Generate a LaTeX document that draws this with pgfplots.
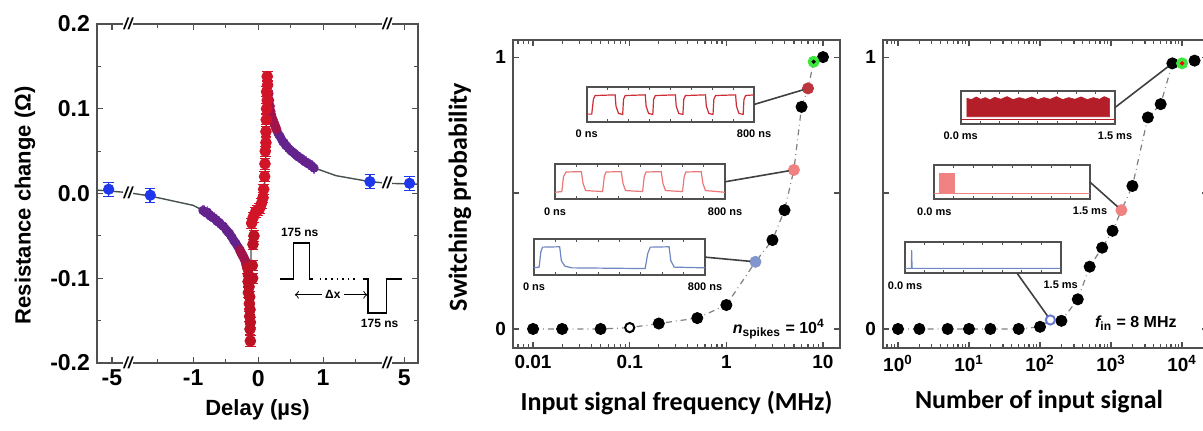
\documentclass[border=0pt]{standalone}
\usepackage{fontspec}
\setmainfont{Liberation Sans}
\newfontfamily\calfont{Carlito}
\usepackage{pgfplots}
\pgfplotsset{compat=1.18}

\definecolor{frame}{RGB}{80,80,80}
\definecolor{ptblue}{RGB}{30,55,235}
\definecolor{ptpurple}{RGB}{100,35,140}
\definecolor{errpurple}{RGB}{160,120,220}
\definecolor{ptwine}{RGB}{160,20,75}
\definecolor{ptred}{RGB}{210,20,40}
\definecolor{fitgray}{RGB}{70,80,80}
\definecolor{trdark}{RGB}{205,45,55}
\definecolor{trlight}{RGB}{235,120,120}
\definecolor{trblue}{RGB}{110,135,195}
\definecolor{dkred}{RGB}{180,30,40}
\definecolor{ptpink}{RGB}{240,130,130}
\definecolor{ltblue}{RGB}{130,150,205}
\definecolor{ptgreen}{RGB}{60,230,60}

\pgfplotsset{
  mainax/.style={scale only axis, anchor=south west, clip=false,
    axis line style={frame, line width=0.9pt},
    tick style={frame, line width=0.6pt},
    major tick length=3pt, minor tick length=1.8pt, tick align=inside},
  inset/.style={scale only axis, anchor=south west, clip=false,
    xmin=0, xmax=1, ymin=0, ymax=1, ytick=\empty,
    xtick={0.125,0.25,0.375,0.5,0.625,0.75,0.875}, xticklabels={},
    axis line style={frame, line width=0.9pt},
    tick style={frame, line width=0.5pt}, major tick length=1.5pt,
    axis background/.style={fill=white}},
  blk/.style={only marks, mark=*, mark size=2.8pt, black},
}
\tikzset{conn/.style={draw=black!75, line width=0.8pt, shorten >=2.6pt},
  insl/.style={font=\fontsize{5.5}{6}\selectfont\bfseries, anchor=north, yshift=-0.5pt},
  brk/.style={fill=white, inner sep=0.3pt, font=\bfseries\itshape\footnotesize}}

\begin{document}
\begin{tikzpicture}
\useasboundingbox (0,0) rectangle (601.5pt,215.5pt);

% ---------------- panel 1: resistance change vs delay
\begin{axis}[mainax, at={(48.5pt,34pt)}, width=160.5pt, height=169.5pt,
  xmin=-2.48, xmax=2.46, ymin=-0.2, ymax=0.2,
  xtick={-2.25,-1,0,1,2.25}, xticklabels={-5,-1,0,1,5},
  minor xtick={-1.55,-0.5,0.5,1.5},
  ytick={-0.2,-0.1,0,0.1,0.2}, yticklabels={-0.2,-0.1,0.0,0.1,0.2},
  minor ytick={-0.15,-0.05,0.05,0.15},
  tick label style={font=\fontsize{11.5}{12}\selectfont\bfseries},
  xlabel={Delay (µs)}, ylabel={Resistance change (Ω)},
  label style={font=\fontsize{11}{12}\selectfont\bfseries},
  xlabel style={at={(axis description cs:0.5,-0.139)}, anchor=center},
  ylabel style={at={(axis description cs:-0.224,0.465)}, anchor=center},
]
% fit line
\addplot[fitgray, line width=0.7pt] coordinates {
  (-2.48,0.004) (-2.3,0.003) (-2.0,0.001) (-1.66,-0.003) (-1.3,-0.009)
  (-1.0,-0.014) (-0.85,-0.020) (-0.64,-0.031) (-0.49,-0.043) (-0.385,-0.055)
  (-0.28,-0.067) (-0.2,-0.079) (-0.16,-0.09) (-0.14,-0.11) (-0.125,-0.14)
  (-0.115,-0.178) (-0.11,-0.06) (-0.1,-0.035) (-0.06,-0.024) (0.0,-0.019)
  (0.05,-0.012) (0.08,-0.004) (0.1,0.01) (0.12,0.05) (0.135,0.14)
  (0.16,0.118) (0.2,0.095) (0.28,0.076) (0.44,0.056) (0.67,0.041)
  (0.87,0.030) (1.2,0.021) (1.72,0.014) (2.0,0.012) (2.46,0.011)
};
% blue points (long delays)
\addplot[only marks, mark=*, mark size=2.6pt, ptblue,
  error bars/.cd, y dir=both, y fixed=0.008,
  error bar style={ptblue, line width=0.8pt}] coordinates {
  (-2.30,0.005) (-1.66,-0.002) (1.72,0.014) (2.33,0.012)
};
% purple points
\addplot[only marks, mark=*, mark size=2.1pt, ptpurple,
  error bars/.cd, x dir=both, x fixed=0.04, y dir=both, y fixed=0.007,
  error mark=none, error bar style={errpurple, line width=0.6pt}] coordinates {
  (-0.85,-0.020) (-0.83,-0.021) (-0.80,-0.023) (-0.78,-0.022) (-0.75,-0.025)
  (-0.73,-0.027) (-0.70,-0.028) (-0.68,-0.029) (-0.65,-0.031) (-0.63,-0.033)
  (-0.60,-0.034) (-0.58,-0.036) (-0.55,-0.038) (-0.53,-0.039) (-0.50,-0.042)
  (-0.48,-0.044) (-0.46,-0.046) (-0.44,-0.047) (-0.42,-0.050) (-0.40,-0.052)
  (-0.38,-0.055) (-0.36,-0.057) (-0.34,-0.059) (-0.32,-0.062) (-0.30,-0.064)
  (0.30,0.072) (0.32,0.069) (0.34,0.067) (0.36,0.064) (0.38,0.061)
  (0.40,0.060) (0.42,0.057) (0.44,0.056) (0.47,0.053) (0.50,0.051)
  (0.53,0.049) (0.56,0.047) (0.59,0.045) (0.62,0.043) (0.65,0.042)
  (0.68,0.040) (0.71,0.038) (0.74,0.037) (0.77,0.035) (0.80,0.034)
  (0.83,0.032) (0.86,0.030)
};
% transition points
\addplot[only marks, mark=*, mark size=2.3pt, ptwine,
  error bars/.cd, x dir=both, x fixed=0.03, y dir=both, y fixed=0.006,
  error mark=none, error bar style={ptwine!60, line width=0.5pt}] coordinates {
  (-0.28,-0.067) (-0.26,-0.070) (-0.24,-0.073) (-0.22,-0.076) (-0.20,-0.079)
  (-0.19,-0.082) (-0.18,-0.085)
  (0.16,0.118) (0.17,0.110) (0.18,0.103) (0.19,0.097) (0.20,0.093)
  (0.22,0.088) (0.24,0.084) (0.26,0.080) (0.28,0.076)
};
% red points (short delays)
\addplot[only marks, mark=*, mark size=2.7pt, ptred!90!black,
  error bars/.cd, y dir=both, y fixed=0.006,
  error bar style={ptred, line width=0.6pt}] coordinates {
  (-0.16,-0.088) (-0.15,-0.096) (-0.155,-0.104) (-0.14,-0.110) (-0.15,-0.117)
  (-0.13,-0.122) (-0.135,-0.130) (-0.125,-0.137) (-0.13,-0.145) (-0.12,-0.152)
  (-0.125,-0.160) (-0.12,-0.174)
  (-0.085,-0.100) (-0.09,-0.085) (-0.08,-0.060) (-0.065,-0.050)
};
\addplot[only marks, mark=*, mark size=2.7pt, ptred,
  error bars/.cd, y dir=both, y fixed=0.006,
  error bar style={ptred, line width=0.6pt}] coordinates {
  (-0.1,-0.035) (-0.075,-0.028) (-0.04,-0.022) (-0.01,-0.020) (0.02,-0.018)
  (0.05,-0.012) (0.075,-0.005) (0.085,0.005) (0.1,0.020) (0.105,0.035)
  (0.11,0.050) (0.12,0.060) (0.12,0.073) (0.125,0.087) (0.13,0.100)
  (0.14,0.110) (0.13,0.120) (0.145,0.128) (0.14,0.138)
};
% axis breaks
\node[brk] at (axis cs:-2.0,0.2) {//};
\node[brk] at (axis cs:-2.0,-0.2) {//};
\node[brk] at (axis cs:1.98,0.2) {//};
\node[brk] at (axis cs:1.98,-0.2) {//};
\node[brk] at (axis cs:-2.0,0.001) {//};
\node[brk] at (axis cs:1.98,0.012) {//};
% pulse schematic
\draw[black, line width=0.6pt] (axis cs:0.33,-0.101) -- (axis cs:0.54,-0.101)
  -- (axis cs:0.54,-0.0585) -- (axis cs:0.795,-0.0585) -- (axis cs:0.795,-0.101)
  -- (axis cs:0.846,-0.101);
\draw[black, dotted, line width=0.8pt] (axis cs:0.95,-0.101) -- (axis cs:1.54,-0.101);
\draw[black, line width=0.6pt] (axis cs:1.615,-0.101) -- (axis cs:1.69,-0.101)
  -- (axis cs:1.69,-0.141) -- (axis cs:1.975,-0.141) -- (axis cs:1.975,-0.101)
  -- (axis cs:2.21,-0.101);
\node[font=\fontsize{6}{7}\selectfont\bfseries] at (axis cs:0.64,-0.046) {175 ns};
\node[font=\fontsize{6}{7}\selectfont\bfseries] at (axis cs:1.87,-0.153) {175 ns};
\draw[black, line width=0.5pt, <-] (axis cs:0.565,-0.1195) -- (axis cs:0.98,-0.1195);
\node[font=\fontsize{6}{7}\selectfont\bfseries] at (axis cs:1.15,-0.1195) {Δx};
\draw[black, line width=0.5pt, ->] (axis cs:1.32,-0.1195) -- (axis cs:1.68,-0.1195);
\end{axis}

% ---------------- panel 2: switching probability vs frequency
\begin{axis}[mainax, at={(256.5pt,41.5pt)}, width=163.5pt, height=154pt,
  xmode=log, xmin=0.0062, xmax=15, ymin=-0.07, ymax=1.063,
  xtick={0.01,0.1,1,10}, xticklabels={0.01,0.1,1,10},
  minor xtick={0.007,0.008,0.009,0.02,0.03,0.04,0.05,0.06,0.07,0.08,0.09,
    0.2,0.3,0.4,0.5,0.6,0.7,0.8,0.9,2,3,4,5,6,7,8,9},
  ytick={0,0.5,1}, yticklabels={0,,1},
  tick label style={font=\fontsize{9.5}{10}\selectfont\bfseries},
  xlabel={Input signal frequency (MHz)}, ylabel={Switching probability},
  label style={font=\calfont\fontsize{13}{14}\selectfont\bfseries},
  xlabel style={at={(axis description cs:0.5,-0.179)}, anchor=center},
  ylabel style={at={(axis description cs:-0.162,0.49)}, anchor=center},
]
\addplot[gray, dash dot, line width=0.6pt] coordinates {
  (0.01,0) (0.02,0) (0.05,0) (0.1,0.005) (0.2,0.02) (0.5,0.04) (1,0.088)
  (2,0.247) (3,0.327) (4,0.437) (5,0.585) (6,0.817) (7,0.885) (8,0.983) (10,1.0)
};
\addplot[blk] coordinates {
  (0.01,0) (0.02,0) (0.05,0) (0.2,0.02) (0.5,0.04) (1,0.088)
  (3,0.327) (4,0.437) (6,0.817) (10,1.0)
};
\addplot[only marks, mark=*, mark size=2.3pt, draw=black, fill=white, line width=1pt]
  coordinates {(0.1,0.005)};
\addplot[only marks, mark=*, mark size=2.8pt, draw=ltblue, fill=ltblue] coordinates {(2,0.247)};
\addplot[only marks, mark=*, mark size=2.8pt, draw=ptpink, fill=ptpink] coordinates {(5,0.585)};
\addplot[only marks, mark=*, mark size=2.8pt, draw=dkred!90, fill=dkred!90] coordinates {(7,0.885)};
\addplot[only marks, mark=*, mark size=2.8pt, draw=ptgreen, fill=ptgreen] coordinates {(8,0.983)};
\addplot[only marks, mark=*, mark size=0.8pt, black] coordinates {(8,0.983)};
\coordinate (q2a) at (axis cs:7,0.885);
\coordinate (q2b) at (axis cs:5,0.585);
\coordinate (q2c) at (axis cs:2,0.247);
\node[anchor=east, font=\fontsize{8}{9}\selectfont\bfseries]
  at (rel axis cs:0.975,0.06) {\itshape n\textsubscript{\upshape spikes}\upshape{} = 10\textsuperscript{4}};
\end{axis}

\begin{axis}[inset, name=in2a, at={(293.35pt,154.65pt)}, width=83.65pt, height=17.2pt]
\addplot[trdark, line width=0.6pt] coordinates {
  (0,0.22) (0.03,0.22) (0.04,0.65) (0.05,0.76) (0.17,0.78) (0.175,0.45) (0.19,0.24)
  (0.215,0.21) (0.22,0.65) (0.23,0.76) (0.35,0.78) (0.355,0.45) (0.37,0.24)
  (0.395,0.21) (0.40,0.65) (0.41,0.76) (0.53,0.78) (0.535,0.45) (0.55,0.24)
  (0.575,0.21) (0.58,0.65) (0.59,0.76) (0.71,0.78) (0.715,0.45) (0.73,0.24)
  (0.755,0.21) (0.76,0.65) (0.77,0.76) (0.89,0.78) (0.895,0.45) (0.91,0.24)
  (0.935,0.21) (0.94,0.65) (0.95,0.76) (1,0.78)
};
\node[insl] at (rel axis cs:0,0) {0 ns};
\node[insl] at (rel axis cs:1,0) {800 ns};
\end{axis}
\begin{axis}[inset, name=in2b, at={(277.5pt,115.85pt)}, width=85pt, height=17.5pt]
\addplot[trlight, line width=0.6pt] coordinates {
  (0,0.2) (0.04,0.22) (0.05,0.65) (0.065,0.78) (0.155,0.79) (0.165,0.45) (0.18,0.25)
  (0.28,0.22) (0.29,0.65) (0.30,0.78) (0.39,0.79) (0.40,0.45) (0.415,0.25)
  (0.515,0.22) (0.525,0.65) (0.535,0.78) (0.625,0.79) (0.635,0.45) (0.65,0.25)
  (0.75,0.22) (0.76,0.65) (0.77,0.78) (0.86,0.79) (0.87,0.45) (0.885,0.25) (1,0.2)
};
\node[insl] at (rel axis cs:0,0) {0 ns};
\node[insl] at (rel axis cs:1,0) {800 ns};
\end{axis}
\begin{axis}[inset, name=in2c, at={(267pt,78pt)}, width=85.5pt, height=17.85pt]
\addplot[trblue, line width=0.6pt] coordinates {
  (0,0.2) (0.03,0.22) (0.04,0.65) (0.05,0.78) (0.15,0.79) (0.16,0.4) (0.18,0.25)
  (0.22,0.2) (0.65,0.18) (0.665,0.6) (0.68,0.78) (0.79,0.79) (0.80,0.4) (0.82,0.22) (1,0.2)
};
\node[insl] at (rel axis cs:0,0) {0 ns};
\node[insl] at (rel axis cs:1,0) {800 ns};
\end{axis}

% ---------------- panel 3: switching probability vs number of inputs
\begin{axis}[mainax, at={(441.5pt,41.5pt)}, width=162.5pt, height=154pt,
  xmode=log, xmin=0.615, xmax=23200, ymin=-0.07, ymax=1.063,
  xtick={1,10,100,1000,10000},
  xticklabels={10\textsuperscript{0},10\textsuperscript{1},10\textsuperscript{2},10\textsuperscript{3},10\textsuperscript{4}},
  minor xtick={0.7,0.8,0.9,2,3,4,5,6,7,8,9,20,30,40,50,60,70,80,90,
    200,300,400,500,600,700,800,900,2000,3000,4000,5000,6000,7000,8000,9000,20000},
  ytick={0,0.5,1}, yticklabels={0,,1},
  tick label style={font=\fontsize{9.5}{10}\selectfont\bfseries},
  xlabel={Number of input signal},
  label style={font=\calfont\fontsize{13}{14}\selectfont\bfseries},
  xlabel style={at={(axis description cs:0.48,-0.175)}, anchor=center},
]
\addplot[gray, dash dot, line width=0.6pt] coordinates {
  (1,0) (2,0) (5,0) (10,0) (20,0) (50,0) (100,0.008) (140,0.033) (200,0.03)
  (340,0.109) (500,0.229) (750,0.299) (1050,0.361) (1400,0.437) (2000,0.526)
  (3300,0.778) (5000,0.827) (7300,0.977) (10000,0.977) (15000,0.987)
};
\addplot[blk] coordinates {
  (1,0) (2,0) (5,0) (10,0) (20,0) (50,0) (100,0.008) (200,0.03)
  (340,0.109) (500,0.229) (750,0.299) (1050,0.361) (2000,0.526)
  (3300,0.778) (5000,0.827) (7300,0.977) (15000,0.987)
};
\addplot[only marks, mark=*, mark size=2.3pt, draw=ltblue!80!blue, fill=white, line width=1pt]
  coordinates {(140,0.033)};
\addplot[only marks, mark=*, mark size=2.8pt, draw=ptpink, fill=ptpink] coordinates {(1400,0.437)};
\addplot[only marks, mark=*, mark size=2.8pt, draw=ptgreen, fill=ptgreen] coordinates {(10000,0.977)};
\addplot[only marks, mark=*, mark size=0.9pt, red] coordinates {(10000,0.977)};
\coordinate (q3a) at (axis cs:7300,0.977);
\coordinate (q3b) at (axis cs:1400,0.437);
\coordinate (q3c) at (axis cs:140,0.033);
\node[anchor=east, font=\fontsize{8}{9}\selectfont\bfseries]
  at (rel axis cs:0.925,0.08) {\itshape f\textsubscript{\upshape in}\upshape{} = 8 MHz};
\end{axis}

\begin{axis}[inset, name=in3a, at={(480.35pt,153.5pt)}, width=77.15pt, height=16.5pt]
\addplot[dkred, line width=0.5pt] coordinates {(0,0.14) (1,0.14)};
\addplot[fill=dkred, draw=dkred, line width=0.3pt] coordinates {
  (0.04,0.22) (0.04,0.78) (0.07,0.74) (0.10,0.82) (0.13,0.75) (0.16,0.80)
  (0.19,0.73) (0.22,0.81) (0.26,0.75) (0.30,0.83) (0.34,0.74) (0.38,0.80)
  (0.42,0.75) (0.46,0.82) (0.50,0.74) (0.54,0.80) (0.58,0.75) (0.62,0.83)
  (0.66,0.74) (0.70,0.80) (0.74,0.75) (0.78,0.82) (0.82,0.74) (0.86,0.80)
  (0.90,0.75) (0.93,0.83) (0.965,0.76) (0.965,0.22)
} --cycle;
\node[insl] at (rel axis cs:0,0) {0.0 ms};
\node[insl] at (rel axis cs:1,0) {1.5 ms};
\end{axis}
\begin{axis}[inset, name=in3b, at={(467.15pt,115.85pt)}, width=77.85pt, height=17.15pt]
\addplot[ptpink, line width=0.5pt] coordinates {(0,0.16) (1,0.16)};
\addplot[fill=ptpink, draw=ptpink, line width=0.3pt] coordinates {
  (0.035,0.16) (0.035,0.76) (0.13,0.76) (0.13,0.16)
} --cycle;
\node[insl] at (rel axis cs:0,0) {0.0 ms};
\node[insl] at (rel axis cs:1,0) {1.5 ms};
\end{axis}
\begin{axis}[inset, name=in3c, at={(452.5pt,78.85pt)}, width=77.85pt, height=15.5pt]
\addplot[trblue, line width=0.5pt] coordinates {(0,0.16) (0.04,0.16) (0.043,0.75) (0.046,0.16) (1,0.16)};
\coordinate (s3c) at (rel axis cs:0.72,0);
\node[insl] at (rel axis cs:0,0) {0.0 ms};
\node[insl] at (rel axis cs:1,0) {1.5 ms};
\end{axis}

% connectors from insets to their data points
\draw[conn] (in2a.east) -- (q2a);
\draw[conn] (in2b.east) -- (q2b);
\draw[conn] (in2c.east) -- (q2c);
\draw[conn] (in3a.east) -- (q3a);
\draw[conn] (in3b.east) -- (q3b);
\draw[conn] (s3c) -- (q3c);
\end{tikzpicture}
\end{document}
